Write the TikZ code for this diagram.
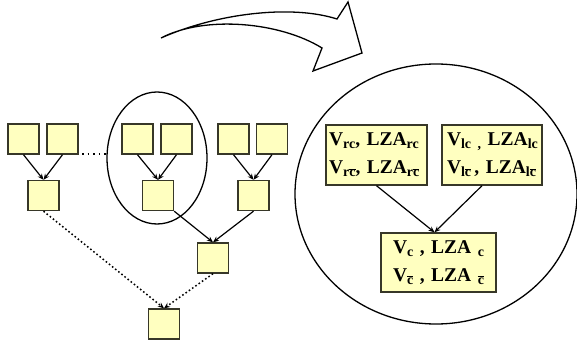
\documentclass[tikz,border=0pt]{standalone}
\usepackage{fontspec}
\setmainfont{Liberation Serif}
\usetikzlibrary{arrows.meta}
\definecolor{boxfill}{RGB}{255,255,192}
\definecolor{boxline}{RGB}{55,55,40}
% lowered subscript and barred c
\newcommand\sbs[1]{\raisebox{-3pt}{\fontsize{14}{14}\selectfont #1}}
\newcommand\cbr{\ensuremath{\overline{\mbox{c}}}}
\begin{document}
\begin{tikzpicture}[x=1pt,y=-1pt,
  leaf/.style={draw=boxline, fill=boxfill, line width=1.4pt,
    minimum width=31pt, minimum height=30pt, inner sep=0pt},
  labelbox/.style={draw=boxline, fill=boxfill, line width=1.4pt,
    font=\fontsize{19.5}{28}\selectfont\bfseries, inner ysep=0pt},
  link/.style={line width=1.2pt, -{Stealth[length=6pt,width=5pt]}},
  dotlink/.style={link, line width=1.5pt, dash pattern=on 1.6pt off 2.4pt},
  ring/.style={line width=1.3pt}]
\useasboundingbox (0,0) rectangle (577,347);

% outlines: grouping ellipse, zoom circle, block arrow
\draw[ring] (157,158) ellipse [x radius=50, y radius=66];
\draw[ring] (436,194) ellipse [x radius=141, y radius=130];
\draw[ring, line join=miter]
  (161,38) .. controls (215,14) and (290,4) .. (337,19)
  -- (348,2) -- (362,53) -- (313,71) -- (322,48)
  .. controls (280,22) and (205,15) .. (161,38) -- cycle;

% tree of blocks
\node[leaf] (b1) at (23.5,139) {};
\node[leaf] (b2) at (62.5,139) {};
\node[leaf] (b3) at (137.5,139) {};
\node[leaf] (b4) at (176.5,139) {};
\node[leaf] (b5) at (233.5,139) {};
\node[leaf] (b6) at (272,139) {};
\node[leaf] (A) at (43.5,195.5) {};
\node[leaf] (B) at (158,195.5) {};
\node[leaf] (C) at (253.5,195.5) {};
\node[leaf] (D) at (213,258) {};
\node[leaf] (E) at (164,324) {};

\draw[link] (b1.south) -- (A.north);
\draw[link] (b2.south) -- (A.north);
\draw[link] (b3.south) -- (B.north);
\draw[link] (b4.south) -- (B.north);
\draw[link] (b5.south) -- (C.north);
\draw[link] (b6.south) -- (C.north);
\draw[link] (B.south east) -- (D.north);
\draw[link] (C.south) -- (D.north);
\draw[dotlink] (A.south) -- (E.north);
\draw[dotlink] (D.south) -- (E.north);

\coordinate (gapL) at (82,154);
\coordinate (gapR) at (107,154);
\draw[line width=1.5pt, dash pattern=on 1.6pt off 4pt] (gapL) -- (gapR);

% detail of one merge step
\node[labelbox, text width=95pt, inner xsep=3pt, minimum height=60pt, align=left]
  (r1) at (376.5,155)
  {V\sbs{rc}, LZA\sbs{rc}\\V\sbs{r\cbr}, LZA\sbs{r\cbr}};
\node[labelbox, text width=94pt, inner xsep=3pt, minimum height=60pt, align=left]
  (r2) at (492,155)
  {\hspace*{2pt}V\sbs{lc ,} LZA\sbs{lc}\\\hspace*{2pt}V\sbs{l\cbr}\,, LZA\sbs{l\cbr}};
\node[labelbox, text width=109pt, inner xsep=3pt, minimum height=59pt, align=center]
  (r3) at (438.5,262.5)
  {V\sbs{c} , LZA \sbs{c}\\V\sbs{\cbr} , LZA \sbs{\cbr}};

\draw[link] (r1.south) -- ([xshift=-4pt]r3.north);
\draw[link] ([xshift=-10pt]r2.south) -- ([xshift=-4pt]r3.north);
\end{tikzpicture}
\end{document}
